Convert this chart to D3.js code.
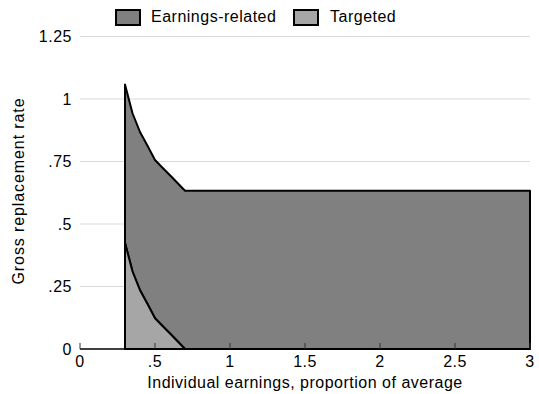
<!DOCTYPE html>
<html><head><meta charset="utf-8">
<script src="https://cdn.jsdelivr.net/npm/d3@7"></script>
<style>body{margin:0;background:#fff}svg text{font-family:"Liberation Sans",Arial,sans-serif;fill:#000}</style>
</head><body><svg id="c" width="539" height="394"></svg>
<script>
const earnings = [0.3,0.35,0.4,0.45,0.5,0.55,0.6,0.65,0.7,3];
const earningsRelated = [0.633,0.633,0.633,0.633,0.633,0.633,0.633,0.633,0.633,0.633];
const targeted = [0.425,0.31,0.235,0.18,0.123,0.092,0.062,0.031,0,0];
const xTicks = [0,0.5,1,1.5,2,2.5,3];
const xTickLabels = ["0",".5","1","1.5","2","2.5","3"];
const yTicks = [0,0.25,0.5,0.75,1,1.25];
const yTickLabels = ["0",".25",".5",".75","1","1.25"];
const seriesNames = ["Earnings-related","Targeted"];
const colors = {"Targeted":"#a6a6a6","Earnings-related":"#808080"};

const svg = d3.select("#c");
const x = d3.scaleLinear().domain([0,3]).range([80,530]);
const y = d3.scaleLinear().domain([0,1.25]).range([349,36.5]);

svg.append("g").selectAll("line").data(yTicks.filter(d=>d>0)).join("line")
  .attr("x1",80).attr("x2",530).attr("y1",d=>y(d)).attr("y2",d=>y(d))
  .attr("stroke","#d9d9d9").attr("stroke-width",1);

const rows = earnings.map((e,i)=>({x:e,"Targeted":targeted[i],"Earnings-related":earningsRelated[i]}));
const stack = d3.stack().keys(["Targeted","Earnings-related"])(rows);
const area = d3.area().x(d=>x(d.data.x)).y0(d=>y(d[0])).y1(d=>y(d[1]));
[stack[1],stack[0]].forEach(s=>{
  svg.append("path").datum(s).attr("d",area)
    .attr("fill",colors[s.key]).attr("stroke","#000").attr("stroke-width",2)
    .attr("stroke-linejoin","round");
});

const xa = svg.append("g");
xa.append("line").attr("x1",80).attr("x2",530).attr("y1",349).attr("y2",349)
  .attr("stroke","#000").attr("stroke-width",1.5);
xa.selectAll("line.t").data(xTicks).join("line").attr("class","t")
  .attr("x1",d=>x(d)).attr("x2",d=>x(d)).attr("y1",349).attr("y2",343)
  .attr("stroke","#333").attr("stroke-width",1);
xa.selectAll("text").data(xTicks).join("text")
  .attr("x",d=>x(d)).attr("y",367).attr("text-anchor","middle")
  .attr("font-size",16).attr("letter-spacing",0.5).text((d,i)=>xTickLabels[i]);

svg.append("g").selectAll("text").data(yTicks).join("text")
  .attr("x",72).attr("y",d=>y(d)+5.5).attr("text-anchor","end")
  .attr("font-size",16).attr("letter-spacing",0.5).text((d,i)=>yTickLabels[i]);

svg.append("text").attr("x",305).attr("y",388).attr("text-anchor","middle")
  .attr("font-size",16).attr("letter-spacing",0.5).text("Individual earnings, proportion of average");
svg.append("text").attr("transform","translate(24,191) rotate(-90)")
  .attr("text-anchor","middle").attr("font-size",16).attr("letter-spacing",0.9).text("Gross replacement rate");

const leg = [{k:"Earnings-related",bx:115,tx:151},{k:"Targeted",bx:293,tx:330}];
leg.forEach(l=>{
  svg.append("rect").attr("x",l.bx+1).attr("y",10).attr("width",24).attr("height",15)
    .attr("fill",colors[l.k]).attr("stroke","#000").attr("stroke-width",2);
  svg.append("text").attr("x",l.tx).attr("y",22).attr("font-size",16).attr("letter-spacing",0.5).text(l.k);
});
</script></body></html>
